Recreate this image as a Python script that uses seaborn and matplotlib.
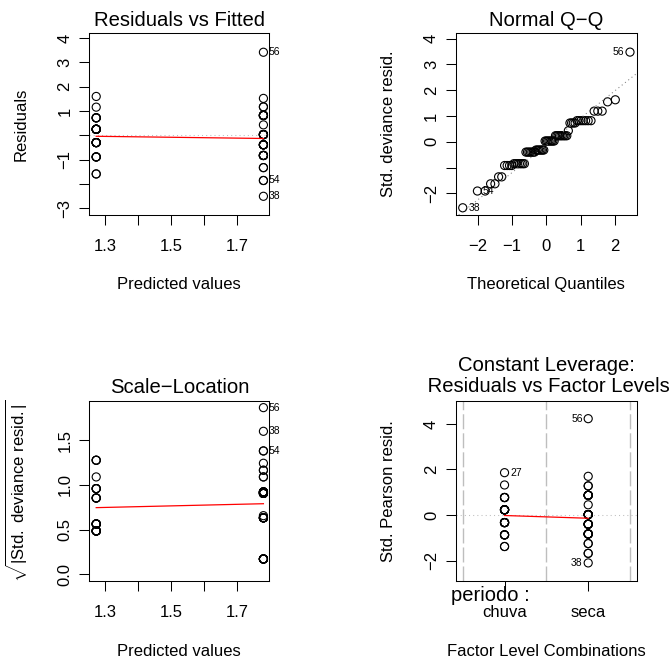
import numpy as np
import pandas as pd
import matplotlib
matplotlib.use("Agg")
import matplotlib.pyplot as plt
import seaborn as sns
from statistics import NormalDist

plt.rcParams['font.family'] = ['Liberation Sans', 'DejaVu Sans']
plt.rcParams['mathtext.fontset'] = 'custom'
plt.rcParams['mathtext.rm'] = 'Liberation Sans'
plt.rcParams['mathtext.it'] = 'Liberation Sans:italic'
plt.rcParams['axes.linewidth'] = 0.75

# ---- data ----
groups = ["chuva", "seca"]
fitted = [1.272, 1.781]          # predicted values (link scale)

# one entry per distinct response level inside each group
chuva_resid = [1.60, 1.16, 0.72, 0.25, -0.30, -0.89, -1.59]
chuva_std = [1.63, 1.19, 0.73, 0.235, -0.32, -0.92, -1.63]
chuva_sqrt = [1.277, 1.09, 0.854, 0.485, 0.563, 0.959, 1.277]
chuva_pearson = [1.86, 1.32, 0.77, 0.23, -0.33, -0.87, -1.38]
chuva_count = [1, 1, 4, 9, 7, 4, 2]
chuva_ids = ["27", "", "", "", "", "", ""]

seca_resid = [3.42, 1.52, 1.17, 0.82, 0.43, 0.03, -0.39, -0.83, -1.33, -1.86, -2.51]
seca_std = [3.48, 1.55, 1.19, 0.82, 0.43, 0.03, -0.40, -0.85, -1.36, -1.91, -2.56]
seca_sqrt = [1.866, 1.243, 1.09, 0.906, 0.656, 0.171, 0.632, 0.922, 1.165, 1.381, 1.601]
seca_pearson = [4.23, 1.70, 1.28, 0.87, 0.45, 0.02, -0.40, -0.83, -1.25, -1.68, -2.10]
seca_count = [1, 1, 2, 7, 1, 8, 7, 7, 2, 2, 1]
seca_ids = ["56", "", "", "", "", "", "", "", "", "54", "38"]

# observations labelled in each panel
shown_resid = ["56", "54", "38"]
shown_qq = ["56", "54", "38"]
shown_scale = ["56", "38", "54"]
shown_lev = ["56", "27", "38"]

# red smoother ends (one value per group)
smooth_resid = [-0.04, -0.13]
smooth_scale = [0.746, 0.79]
smooth_pearson = [-0.02, -0.14]


def expand(name, fit, resid, std, sq, pear, count, ids):
    rows = []
    for r, s, q, p, c, i in zip(resid, std, sq, pear, count, ids):
        for k in range(c):
            rows.append(dict(periodo=name, fitted=fit, resid=r, std=s, sqrt_std=q,
                             pearson=p, id=i if k == 0 else ""))
    return rows


obs = pd.DataFrame(
    expand("chuva", fitted[0], chuva_resid, chuva_std, chuva_sqrt, chuva_pearson, chuva_count, chuva_ids)
    + expand("seca", fitted[1], seca_resid, seca_std, seca_sqrt, seca_pearson, seca_count, seca_ids))
obs["fac"] = obs["periodo"].map({g: i for i, g in enumerate(groups)})

# normal Q-Q
qq = obs.sort_values("std", kind="mergesort").reset_index(drop=True)
n = len(qq)
qq["theo"] = [NormalDist().inv_cdf((i + 0.5) / n) for i in range(n)]

pt = dict(marker='o', s=34, facecolor='none', edgecolor='black', linewidth=0.8, legend=False)
MINUS = "\u2212"


def style(ax):
    ax.tick_params(direction='out', length=7.2, width=0.75, labelsize=12, color='black')
    ax.tick_params(axis='x', pad=10)
    ax.tick_params(axis='y', pad=5, labelrotation=90)
    plt.setp(ax.get_yticklabels(), va='center')
    for s in ax.spines.values():
        s.set_color('black')


def ids(ax, df, x, y, shown, side):
    sub = df[df['id'].isin(shown)]
    for xv, yv, lab in zip(sub[x], sub[y], sub['id']):
        dx = 4 if side(xv) else -4
        ax.annotate(lab, (xv, yv), xytext=(dx, 0), textcoords='offset points',
                    ha='left' if dx > 0 else 'right', va='center', fontsize=7.5)


fig = plt.figure(figsize=(6.72, 6.66), dpi=100)
ax1 = fig.add_axes([0.1329, 0.6772, 0.2679, 0.2728])
ax2 = fig.add_axes([0.6786, 0.6772, 0.2689, 0.2728])
ax3 = fig.add_axes([0.1329, 0.1281, 0.2679, 0.2703])
ax4 = fig.add_axes([0.6786, 0.1281, 0.2689, 0.2703])

# 1. Residuals vs Fitted
ax1.axhline(0, color='#bebebe', lw=0.75, ls=(0, (1, 3)))
sns.scatterplot(data=obs, x='fitted', y='resid', ax=ax1, **pt)
sns.lineplot(x=fitted, y=smooth_resid, ax=ax1, color='red', lw=0.9)
ids(ax1, obs, 'fitted', 'resid', shown_resid, lambda x: True)
ax1.set_xlim(1.251, 1.799)
ax1.set_ylim(-3.28, 4.2)
ax1.set_xticks([1.3, 1.4, 1.5, 1.6, 1.7], ['1.3', '', '1.5', '', '1.7'])
ax1.set_yticks(range(-3, 5), [MINUS + '3', '', MINUS + '1', '', '1', '2', '3', '4'])
ax1.set_title('Residuals vs Fitted', fontsize=14.6, pad=5.3)
ax1.set_xlabel('Predicted values', fontsize=12)
ax1.set_ylabel('Residuals', fontsize=12)
ax1.xaxis.set_label_coords(0.5, -0.341)
ax1.yaxis.set_label_coords(-0.338, 0.5)

# 2. Normal Q-Q
q1, q3 = np.quantile(qq['std'], [0.25, 0.75])
z1, z3 = NormalDist().inv_cdf(0.25), NormalDist().inv_cdf(0.75)
slope = (q3 - q1) / (z3 - z1)
ax2.axline((0, q1 - slope * z1), slope=slope, color='#7f7f7f', lw=0.75, ls=(0, (1, 3)))
sns.scatterplot(data=qq, x='theo', y='std', ax=ax2, **pt)
ids(ax2, qq, 'theo', 'std', shown_qq, lambda x: x < 0)
ax2.set_xlim(-2.63, 2.63)
ax2.set_ylim(-2.84, 4.21)
ax2.set_xticks(range(-2, 3), [MINUS + '2', MINUS + '1', '0', '1', '2'])
ax2.set_yticks(range(-2, 5), [MINUS + '2', '', '0', '1', '2', '3', '4'])
ax2.set_title('Normal Q\u2212Q', fontsize=14.6, pad=5.3)
ax2.set_xlabel('Theoretical Quantiles', fontsize=12)
ax2.set_ylabel('Std. deviance resid.', fontsize=12)
ax2.xaxis.set_label_coords(0.5, -0.341)
ax2.yaxis.set_label_coords(-0.334, 0.5)

# 3. Scale-Location
sns.scatterplot(data=obs, x='fitted', y='sqrt_std', ax=ax3, **pt)
sns.lineplot(x=fitted, y=smooth_scale, ax=ax3, color='red', lw=0.9)
ids(ax3, obs, 'fitted', 'sqrt_std', shown_scale, lambda x: True)
ax3.set_xlim(1.251, 1.799)
ax3.set_ylim(-0.072, 1.944)
ax3.set_xticks([1.3, 1.4, 1.5, 1.6, 1.7], ['1.3', '', '1.5', '', '1.7'])
ax3.set_yticks([0, 0.5, 1.0, 1.5], ['0.0', '0.5', '1.0', '1.5'])
ax3.set_title('Scale\u2212Location', fontsize=14.6, pad=5.3)
ax3.set_xlabel('Predicted values', fontsize=12)
ax3.set_ylabel(r'$\sqrt{|\mathrm{Std.\ deviance\ resid.}|}$', fontsize=12)
ax3.xaxis.set_label_coords(0.5, -0.349)
ax3.yaxis.set_label_coords(-0.33, 0.5)

# 4. Constant leverage
for v in [-0.5, 0.5, 1.5]:
    ax4.axvline(v, color='#bebebe', lw=1.0, ls=(0, (10.8, 2.9)))
ax4.axhline(0, color='#bebebe', lw=0.75, ls=(0, (1, 3)))
sns.scatterplot(data=obs, x='fac', y='pearson', ax=ax4, **pt)
sns.lineplot(x=[0, 1], y=smooth_pearson, ax=ax4, color='red', lw=0.9)
ids(ax4, obs, 'fac', 'pearson', shown_lev, lambda x: x < 0.5)
ax4.set_xlim(-0.58, 1.58)
ax4.set_ylim(-2.88, 5.02)
ax4.set_xticks([0, 1], groups)
ax4.set_yticks([-2, 0, 2, 4], [MINUS + '2', '0', '2', '4'])
ax4.set_title('Constant Leverage:\n Residuals vs Factor Levels', fontsize=14.6, pad=3,
              va='bottom', linespacing=1.15)
ax4.set_xlabel('Factor Level Combinations', fontsize=12)
ax4.set_ylabel('Std. Pearson resid.', fontsize=12)
ax4.xaxis.set_label_coords(0.5, -0.349)
ax4.yaxis.set_label_coords(-0.334, 0.5)
ax4.text(-0.028, -0.082, 'periodo :', transform=ax4.transAxes, ha='left', va='center', fontsize=14.5)

for ax in (ax1, ax2, ax3, ax4):
    style(ax)

fig.savefig('out.png', dpi=100)
